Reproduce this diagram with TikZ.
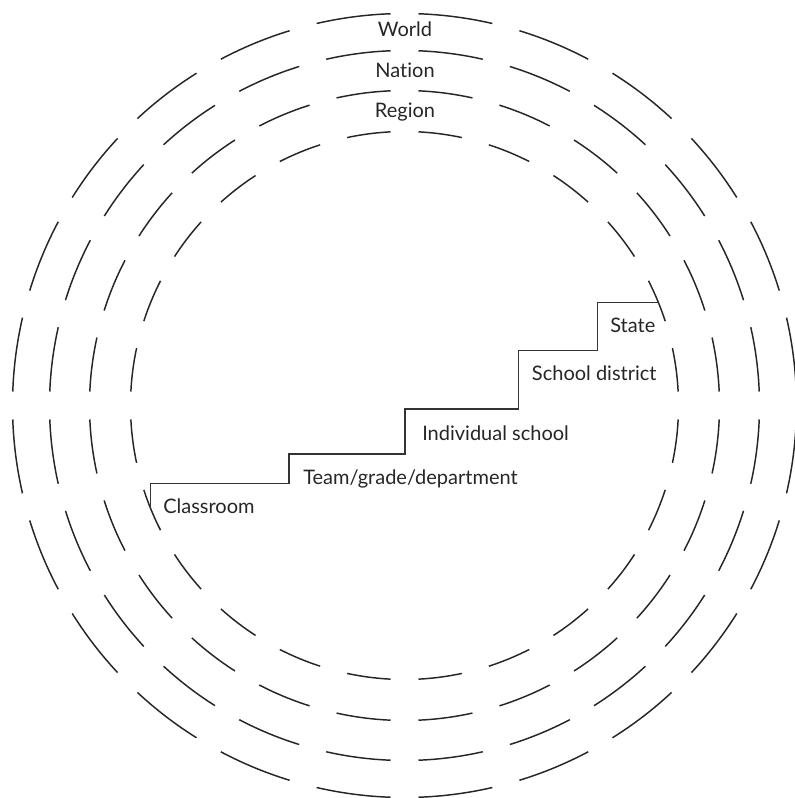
\documentclass[tikz,border=0pt]{standalone}
\usepackage{fontspec}
\setmainfont{Lato}[Ligatures={NoCommon,NoRare}]
\begin{document}
\begin{tikzpicture}[x=0.75pt,y=-0.75pt,
  ring/.style={line width=1.1pt,draw=black!85},
  stairs/.style={line width=1.1pt,draw=black!80,line join=miter},
  lbl/.style={font=\fontsize{15}{18}\selectfont,text=black!85,inner sep=0pt,anchor=base west},
  toplbl/.style={font=\fontsize{15}{18}\selectfont,text=black!85,inner sep=0pt,anchor=base}]
\useasboundingbox (0,0) rectangle (794,798);
\coordinate (c) at (404.5,405.5);
% four concentric dashed rings: 24 dashes each, equal gaps of 28 units
\foreach \r in {274,315,355,392}{
  \pgfmathsetmacro{\h}{(15-28/\r*180/pi)/2}
  \foreach \k in {0,...,23}{
    \pgfmathsetmacro{\a}{7.5+15*\k}
    \draw[ring] ([shift={(\a-\h:\r)}]c) arc[start angle=\a-\h,end angle=\a+\h,radius=\r];
  }
}
% ring labels
\node[toplbl] (world)  at (405,36.5)  {World};
\node[toplbl] (nation) at (405,78)    {Nation};
\node[toplbl] (region) at (405,118)   {Region};
% staircase
\draw[stairs] (150.7,508.7) -- (150.7,483.3) -- (289,483.3) -- (289,454)
  -- (405,454) -- (405,409) -- (518.5,409) -- (518.5,350.7)
  -- (597.3,350.7) -- (597.3,302.7) -- (658.5,302.7);
% step labels
\node[lbl] (classroom) at (163,513.3) {Classroom};
\node[lbl] (team)      at (303,484)   {Team/grade/department};
\node[lbl] (school)    at (422,440)   {Individual school};
\node[lbl] (district)  at (531.7,380) {School district};
\node[lbl] (state)     at (610,332.3) {State};
\end{tikzpicture}
\end{document}
